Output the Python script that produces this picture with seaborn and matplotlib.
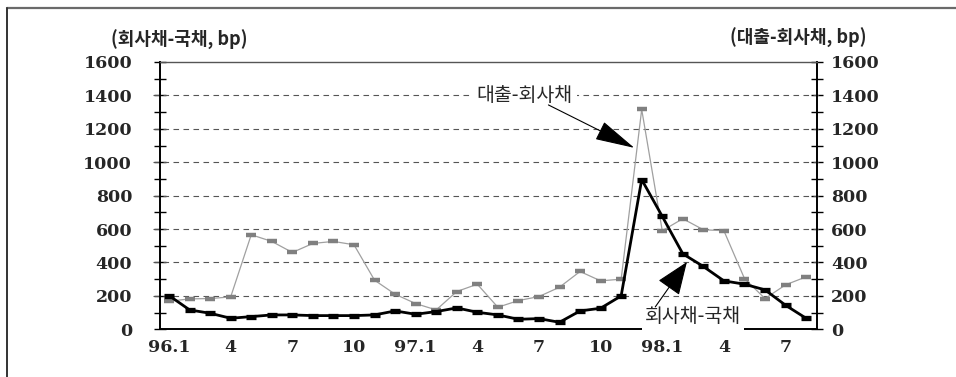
import matplotlib
matplotlib.use("Agg")
import matplotlib.pyplot as plt
from matplotlib.lines import Line2D
from matplotlib.ticker import MultipleLocator
from matplotlib.font_manager import FontProperties
import matplotlib.transforms as mtransforms
import numpy as np
import pandas as pd
import seaborn as sns

# Monthly spreads, Jan 1996 - Aug 1998 (bp)
month_labels = ["96.1", "", "", "4", "", "", "7", "", "", "10", "", "",
                "97.1", "", "", "4", "", "", "7", "", "", "10", "", "",
                "98.1", "", "", "4", "", "", "7", ""]
corp_minus_gov = [202, 116, 96, 66, 76, 86, 86, 82, 82, 82, 86, 110,
                  90, 106, 128, 102, 86, 60, 64, 42, 110, 126, 200, 896,
                  676, 452, 376, 290, 270, 236, 144, 66]
loan_minus_corp = [168, 182, 184, 194, 566, 526, 460, 514, 526, 506, 294, 210,
                   154, 116, 226, 270, 132, 172, 196, 252, 346, 290, 300, 1316,
                   590, 662, 596, 590, 304, 184, 266, 314]

left_title = "(회사채-국채, bp)"
right_title = "(대출-회사채, bp)"
loan_label = "대출-회사채"
corp_label = "회사채-국채"

sns.set_style("white")
plt.rcParams["font.family"] = ["DejaVu Serif"]

df = pd.DataFrame({
    "month": np.arange(len(month_labels)),
    "corp": corp_minus_gov,
    "loan": loan_minus_corp,
})

W, H = 956, 377
fig = plt.figure(figsize=(W / 100, H / 100), dpi=100)
x0, x1, ytop, ybot = 160, 817, 62, 329.3
ax = fig.add_axes([x0 / W, 1 - ybot / H, (x1 - x0) / W, (ybot - ytop) / H])

# Outer frame (top and left edges)
fig.add_artist(Line2D([7 / W, 1.0], [1 - 8 / H, 1 - 8 / H], transform=fig.transFigure,
                      color="#6a6a6a", lw=1.6))
fig.add_artist(Line2D([7 / W, 7 / W], [0, 1 - 8 / H], transform=fig.transFigure,
                      color="#333333", lw=1.4))

# Dashed reference lines
for v in range(200, 1600, 200):
    ax.hlines(v, -0.011, 1.009, transform=ax.get_yaxis_transform(), clip_on=False,
              colors="#555555", lw=0.8, linestyles=(0, (5, 4)), zorder=1)

sns.lineplot(data=df, x="month", y="loan", ax=ax, color="#a0a0a0", linewidth=0.9,
             marker="_", markersize=6.8, markeredgewidth=3.2,
             markeredgecolor="#808080", zorder=3)
sns.lineplot(data=df, x="month", y="corp", ax=ax, color="black", linewidth=2.0,
             marker="_", markersize=7, markeredgewidth=3.8,
             markeredgecolor="black", zorder=4)

ax.set_xlim(-0.44, 31.53)
ax.set_ylim(0, 1600)
ax.set_xlabel("")
ax.set_ylabel("")

ax.set_xticks(df["month"])
ax.set_xticklabels(month_labels)
ax.yaxis.set_major_locator(MultipleLocator(200))
ax.yaxis.set_minor_locator(MultipleLocator(100))

tick_font = dict(family="DejaVu Serif", weight="heavy", size=12.5)

ax.tick_params(axis="x", which="major", direction="inout", length=8, width=1,
               color="black", pad=3)
ax.tick_params(axis="y", which="both", direction="inout", length=8, width=1,
               color="black", left=True, right=True, labelleft=True, labelright=True)
ax.tick_params(axis="y", which="major", pad=16)

fig.canvas.draw()
for lab in ax.get_xticklabels():
    lab.set_fontproperties(FontProperties(**tick_font))
# right-hand labels sit closer to the spine than the left-hand ones
offset = mtransforms.ScaledTranslation(-10 / 72, 0, fig.dpi_scale_trans)
for t in ax.yaxis.get_major_ticks():
    t.label1.set_fontproperties(FontProperties(**tick_font))
    t.label2.set_fontproperties(FontProperties(**tick_font))
    t.label2.set_transform(t.label2.get_transform() + offset)

for side in ["left", "right", "bottom"]:
    ax.spines[side].set_color("black")
    ax.spines[side].set_linewidth(1.4)
ax.spines["top"].set_color("#555555")
ax.spines["top"].set_linewidth(1.0)

cjk = ["Noto Sans CJK KR", "DejaVu Sans"]
fig.text(179 / W, 1 - 40 / H, left_title, family=cjk, weight="bold", fontsize=13,
         ha="center", va="center")
fig.text(798 / W, 1 - 38 / H, right_title, family=cjk, weight="bold", fontsize=13,
         ha="center", va="center")

ax.text(17.3, 1400, loan_label, family=cjk, fontsize=14, ha="center", va="center",
        bbox=dict(facecolor="white", edgecolor="none", pad=3), zorder=6)
ax.text(25.5, 76, corp_label, family=cjk, fontsize=14, ha="center", va="center",
        bbox=dict(facecolor="white", edgecolor="none", pad=2), zorder=6)

ax.annotate("", xy=(22.64, 1086), xytext=(18.46, 1343),
            arrowprops=dict(arrowstyle="-|>,head_length=1.7,head_width=0.42",
                            mutation_scale=15, color="black", lw=0.8,
                            shrinkA=0, shrinkB=0), zorder=7)
ax.annotate("", xy=(25.2, 403), xytext=(23.66, 134),
            arrowprops=dict(arrowstyle="-|>,head_length=1.4,head_width=0.55",
                            mutation_scale=15, color="black", lw=0.8,
                            shrinkA=0, shrinkB=0), zorder=7)

fig.savefig("out.png", dpi=100)
